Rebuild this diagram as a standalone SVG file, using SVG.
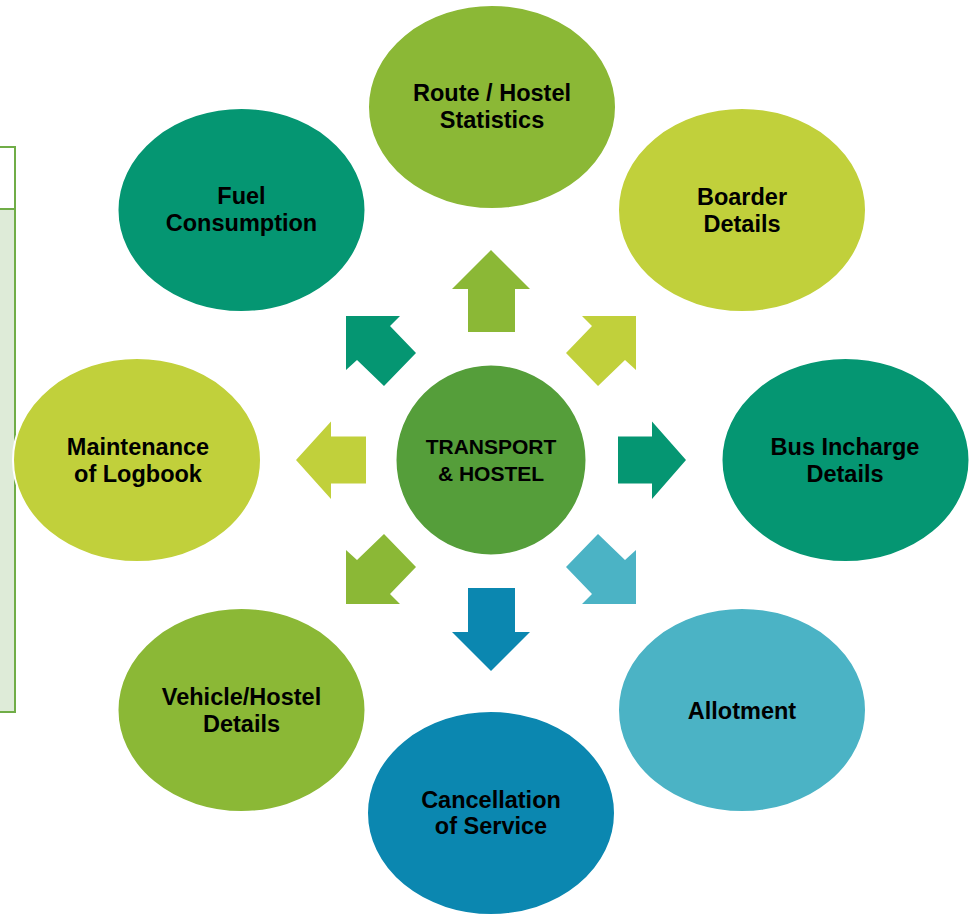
<svg xmlns="http://www.w3.org/2000/svg" width="971" height="915" viewBox="0 0 971 915">
<style>
.lbl{font-family:"Liberation Sans",Arial,sans-serif;font-weight:bold;font-size:23.5px;fill:#000;text-anchor:middle}
.ctr{font-size:21px}
.node{stroke:#fff;stroke-width:2}
</style>
<rect width="971" height="915" fill="#fff"/>
<g id="side-panel">
<rect x="-2" y="147" width="17" height="565" fill="#DEEBD8" stroke="#70AD47" stroke-width="2"/>
<rect x="-1" y="148" width="15" height="60" fill="#fff"/>
<line x1="0" y1="209" x2="15" y2="209" stroke="#70AD47" stroke-width="2"/>
</g>
<g id="connectors">
<polygon fill="#8BB836" points="491,250 530,289 515,289 515,332 468,332 468,289 452,289"/>
<polygon fill="#0B87B0" points="491,671 530,632 515,632 515,588 468,588 468,632 452,632"/>
<polygon fill="#059672" points="686,460 652,421.5 652,436.5 618,436.5 618,483.5 652,483.5 652,499"/>
<polygon fill="#C1D03B" points="296,460 331,421.5 331,436.5 366,436.5 366,483.5 331,483.5 331,499"/>
<polygon fill="#C1D03B" points="636,316 582,316 592,326 566,353 598,386 625,360 636,370"/>
<polygon fill="#059672" points="346,316 400,316 390,326 416,353 384,386 357,360 346,370"/>
<polygon fill="#4BB3C5" points="636,604 582,604 592,594 566,567 598,534 625,560 636,550"/>
<polygon fill="#8BB836" points="346,604 400,604 390,594 416,567 384,534 357,560 346,550"/>
</g>
<g id="center">
<circle class="node" cx="491" cy="460" r="95.5" fill="#559E3A"/>
<text class="lbl ctr" x="491" y="454">TRANSPORT</text>
<text class="lbl ctr" x="491" y="481">&amp; HOSTEL</text>
</g>
<g id="route">
<ellipse class="node" cx="492" cy="107" rx="124" ry="102" fill="#8BB836"/>
<text class="lbl" x="492" y="101">Route / Hostel</text>
<text class="lbl" x="492" y="128">Statistics</text>
</g>
<g id="boarder">
<ellipse class="node" cx="742" cy="210" rx="124" ry="102" fill="#C1D03B"/>
<text class="lbl" x="742" y="205">Boarder</text>
<text class="lbl" x="742" y="232">Details</text>
</g>
<g id="bus-incharge">
<ellipse class="node" cx="845.5" cy="460" rx="124" ry="102" fill="#059672"/>
<text class="lbl" x="845" y="455">Bus Incharge</text>
<text class="lbl" x="845" y="482">Details</text>
</g>
<g id="allotment">
<ellipse class="node" cx="742" cy="710" rx="124" ry="102" fill="#4BB3C5"/>
<text class="lbl" x="742" y="719">Allotment</text>
</g>
<g id="cancellation">
<ellipse class="node" cx="491" cy="813" rx="124" ry="102" fill="#0B87B0"/>
<text class="lbl" x="491" y="808">Cancellation</text>
<text class="lbl" x="491" y="834">of Service</text>
</g>
<g id="vehicle">
<ellipse class="node" cx="241.5" cy="710" rx="124" ry="102" fill="#8BB836"/>
<text class="lbl" x="241.5" y="705">Vehicle/Hostel</text>
<text class="lbl" x="241.5" y="732">Details</text>
</g>
<g id="maintenance">
<ellipse class="node" cx="137" cy="460" rx="124" ry="102" fill="#C1D03B"/>
<text class="lbl" x="138" y="455">Maintenance</text>
<text class="lbl" x="138" y="482">of Logbook</text>
</g>
<g id="fuel">
<ellipse class="node" cx="241.5" cy="210" rx="124" ry="102" fill="#059672"/>
<text class="lbl" x="241.5" y="204">Fuel</text>
<text class="lbl" x="241.5" y="231">Consumption</text>
</g>
</svg>
